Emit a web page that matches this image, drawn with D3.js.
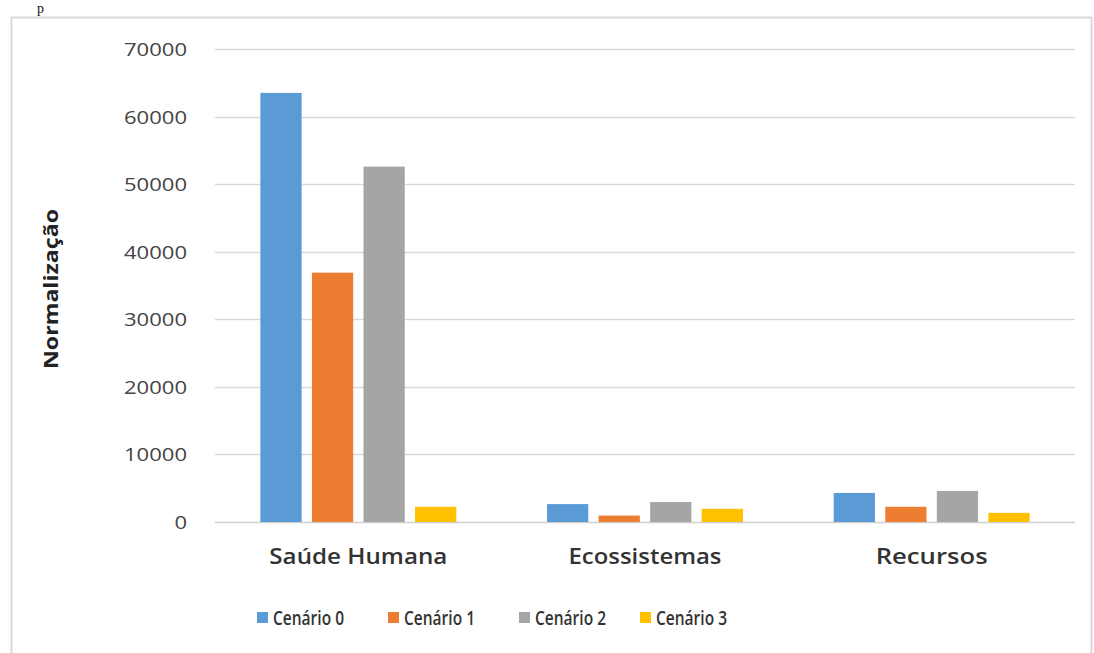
<!DOCTYPE html>
<html><head><meta charset="utf-8">
<script src="https://cdn.jsdelivr.net/npm/d3@7"></script>
<style>body{margin:0;background:#fff}svg{display:block}</style>
</head><body>
<svg id="c" width="1094" height="653"></svg>
<script>
const categories = ["Saúde Humana", "Ecossistemas", "Recursos"];
const seriesNames = ["Cenário 0", "Cenário 1", "Cenário 2", "Cenário 3"];
const cenario0 = [63500, 2650, 4300];
const cenario1 = [36900, 950, 2250];
const cenario2 = [52600, 2950, 4600];
const cenario3 = [2250, 1950, 1350];
const yTicks = [0, 10000, 20000, 30000, 40000, 50000, 60000, 70000];
const colors = ["#5b9bd5", "#ed7d31", "#a5a5a5", "#ffc000"];
const allSeries = [cenario0, cenario1, cenario2, cenario3];

const svg = d3.select("#c");
// fragment of preceding document text
svg.append("text").attr("x", 37).attr("y", 13).attr("font-family", "Liberation Serif").attr("font-size", 14).attr("fill", "#111").text("p");
// chart frame
svg.append("rect").attr("x", 11.5).attr("y", 17.5).attr("width", 1080).attr("height", 660)
  .attr("fill", "none").attr("stroke", "#d9d9d9").attr("stroke-width", 2);

const x0 = d3.scaleBand().domain(categories).range([215, 1075]);
const x1 = d3.scaleBand().domain(seriesNames).range([0, x0.bandwidth()]).paddingInner(0.2).paddingOuter(0.88);
const y = d3.scaleLinear().domain([0, 70000]).range([522, 49]);

// grid
svg.append("g").selectAll("line").data(yTicks).join("line")
  .attr("x1", 215).attr("x2", 1075).attr("y1", d => Math.round(y(d)) + 0.5).attr("y2", d => Math.round(y(d)) + 0.5)
  .attr("stroke", d => d === 0 ? "#cfcfcf" : "#d9d9d9").attr("stroke-width", 1.3);

// y tick labels
svg.append("g").selectAll("text").data(yTicks).join("text")
  .attr("x", 187).attr("y", d => y(d) + 7).attr("text-anchor", "end")
  .attr("font-family", "Open Sans, sans-serif").attr("font-size", 19).attr("fill", "#444")
  .attr("textLength", d => String(d).length * 12.6).attr("lengthAdjust", "spacingAndGlyphs")
  .text(d => d);

// y title
svg.append("text").attr("transform", "translate(58,289) rotate(-90)").attr("text-anchor", "middle")
  .attr("font-family", "Open Sans, sans-serif").attr("font-weight", "bold").attr("font-size", 19).attr("fill", "#222")
  .attr("textLength", 160).attr("lengthAdjust", "spacingAndGlyphs")
  .text("Normalização");

// bars
const g = svg.append("g");
seriesNames.forEach((s, i) => {
  g.append("g").selectAll("rect").data(categories.map((c, j) => ({c, v: allSeries[i][j]}))).join("rect")
    .attr("x", d => x0(d.c) + x1(s)).attr("width", x1.bandwidth())
    .attr("y", d => y(d.v)).attr("height", d => y(0) - y(d.v))
    .attr("fill", colors[i]);
});

// x labels
const xLabelWidths = [178, 153, 112];
svg.append("g").selectAll("text").data(categories).join("text")
  .attr("x", d => x0(d) + x0.bandwidth() / 2).attr("y", 564).attr("text-anchor", "middle")
  .attr("font-family", "Open Sans, sans-serif").attr("font-weight", 600).attr("font-size", 21).attr("fill", "#333")
  .attr("textLength", (d, i) => xLabelWidths[i]).attr("lengthAdjust", "spacingAndGlyphs")
  .text(d => d);

// legend
const legendX = [257, 388, 519, 640];
const lg = svg.append("g");
seriesNames.forEach((s, i) => {
  lg.append("rect").attr("x", legendX[i]).attr("y", 612).attr("width", 11).attr("height", 11).attr("fill", colors[i]);
  lg.append("text").attr("x", legendX[i] + 16).attr("y", 625)
    .attr("font-family", "Open Sans, sans-serif").attr("font-weight", 600).attr("font-size", 20).attr("fill", "#333")
    .attr("textLength", 71).attr("lengthAdjust", "spacingAndGlyphs")
    .text(s);
});
</script>
</body></html>
